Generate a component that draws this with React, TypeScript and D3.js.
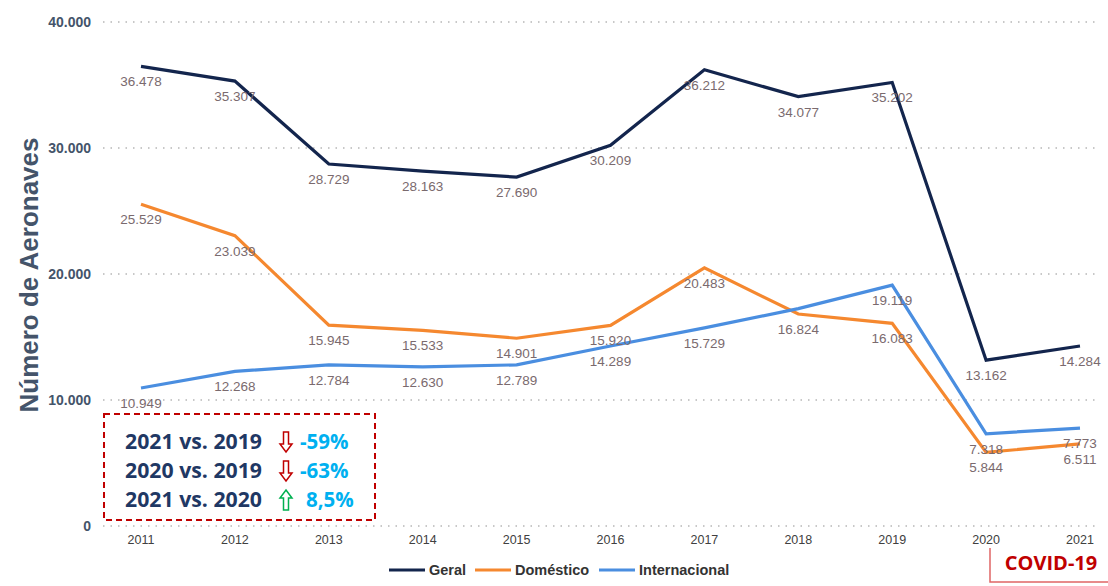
import React from 'react'
import * as d3 from 'd3'

const years = [2011, 2012, 2013, 2014, 2015, 2016, 2017, 2018, 2019, 2020, 2021]
const geral = [36478, 35307, 28729, 28163, 27690, 30209, 36212, 34077, 35202, 13162, 14284]
const domestico = [25529, 23039, 15945, 15533, 14901, 15920, 20483, 16824, 16083, 5844, 6511]
const internacional = [10949, 12268, 12784, 12630, 12789, 14289, 15729, 17253, 19119, 7318, 7773]
const yTicks = [0, 10000, 20000, 30000, 40000]
const comparisons = [
  { label: '2021 vs. 2019', dir: 'down', value: '-59%' },
  { label: '2020 vs. 2019', dir: 'down', value: '-63%' },
  { label: '2021 vs. 2020', dir: 'up', value: '8,5%' },
]

const series = [
  { name: 'Geral', values: geral, color: '#13254d', hideLabel: [] as number[] },
  { name: 'Doméstico', values: domestico, color: '#f5882f', hideLabel: [] as number[] },
  { name: 'Internacional', values: internacional, color: '#4a8ee0', hideLabel: [2018] },
]

const fmt = (v: number) => (v === 0 ? '0' : d3.format(',')(v).replace(/,/g, '.'))

export default function App() {
  const width = 1108
  const height = 586
  const x = d3.scalePoint<number>().domain(years).range([141, 1080])
  const y = d3.scaleLinear().domain([0, 40000]).range([526, 22])
  const line = d3.line<number>().x((_, i) => x(years[i])!).y(d => y(d))

  const arrow = (cx: number, cy: number, up: boolean, color: string) => {
    // outlined block arrow
    const pts = up
      ? [[0, -10], [6, -2], [2.5, -2], [2.5, 10], [-2.5, 10], [-2.5, -2], [-6, -2]]
      : [[0, 10], [6, 2], [2.5, 2], [2.5, -10], [-2.5, -10], [-2.5, 2], [-6, 2]]
    return (
      <polygon
        points={pts.map(p => `${cx + p[0]},${cy + p[1]}`).join(' ')}
        fill="white"
        stroke={color}
        strokeWidth={1.5}
      />
    )
  }

  const boxFont = 'Open Sans, Lato, sans-serif'

  return (
    <svg width={width} height={height} style={{ position: 'absolute', left: 0, top: 0, background: '#fff' }}
      fontFamily="Liberation Sans, Arial, sans-serif">
      {/* grid */}
      {yTicks.map(t => (
        <g key={t}>
          <line x1={103} x2={1100} y1={y(t)} y2={y(t)} stroke="#c8c8c8" strokeWidth={2} strokeDasharray="1.5,6" />
          <text x={91} y={y(t)} dy="0.35em" textAnchor="end" fontSize={14} fontWeight="bold" fill="#44546a">
            {fmt(t)}
          </text>
        </g>
      ))}
      {years.map(yr => (
        <text key={yr} x={x(yr)} y={544} textAnchor="middle" fontSize={12.5} fill="#404040">{yr}</text>
      ))}
      <text transform="translate(38,275) rotate(-90)" textAnchor="middle" fontSize={26} fontWeight="bold" fill="#44546a">
        Número de Aeronaves
      </text>

      {series.map(s => (
        <path key={s.name} d={line(s.values) || ''} fill="none" stroke={s.color} strokeWidth={3.2} strokeLinejoin="miter" />
      ))}
      {series.map(s =>
        s.values.map((v, i) =>
          s.hideLabel.includes(years[i]) ? null : (
            <text key={s.name + i} x={x(years[i])} y={y(v) + 20} textAnchor="middle" fontSize={13.5} fill="#7a6a6e">
              {fmt(v)}
            </text>
          )
        )
      )}

      {/* comparison box */}
      <rect x={104} y={414} width={271} height={106} fill="none" stroke="#c00000" strokeWidth={2} strokeDasharray="6,4" />
      {comparisons.map((c, i) => {
        const cy = 442 + i * 29
        return (
          <g key={c.label}>
            <text x={125} y={cy} dy="0.35em" fontSize={20.5} fontWeight="bold" fill="#1f3864" fontFamily={boxFont}
              textLength={137} lengthAdjust="spacingAndGlyphs">
              {c.label}
            </text>
            {arrow(286, cy, c.dir === 'up', c.dir === 'up' ? '#00b050' : '#c00000')}
            <text x={c.dir === 'up' ? 306 : 300} y={cy} dy="0.35em" fontSize={20.5} fontWeight="bold" fill="#00b0f0" fontFamily={boxFont}>
              {c.value}
            </text>
          </g>
        )
      })}

      {/* legend */}
      {series.map((s, i) => {
        const lx = [389, 475, 599][i]
        return (
          <g key={s.name}>
            <line x1={lx} x2={lx + 36} y1={570} y2={570} stroke={s.color} strokeWidth={3} />
            <text x={lx + 40} y={570} dy="0.35em" fontSize={14.5} fontWeight="bold" fill="#333">{s.name}</text>
          </g>
        )
      })}

      {/* COVID-19 marker */}
      <polyline points="990,548 990,582 1108,582" fill="none" stroke="#e06666" strokeWidth={1.5} />
      <text x={1051} y={563} dy="0.35em" textAnchor="middle" fontSize={20} fontWeight="bold" fill="#c00000" fontFamily={boxFont}>
        COVID-19
      </text>
    </svg>
  )
}
